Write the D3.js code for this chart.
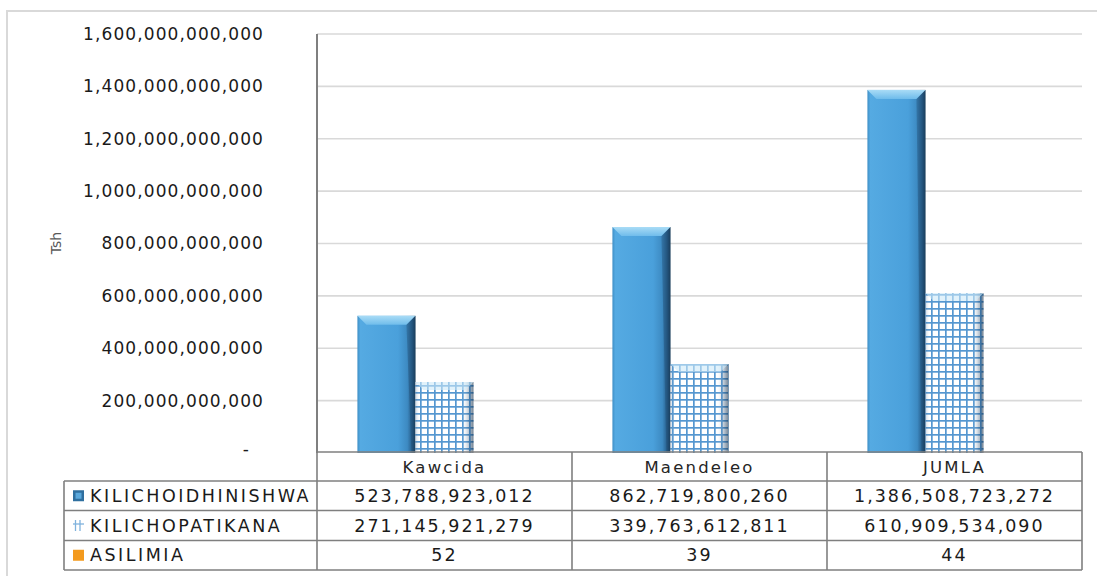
<!DOCTYPE html>
<html>
<head>
<meta charset="utf-8">
<script src="https://cdn.jsdelivr.net/npm/d3@7"></script>
<style>
  html, body { margin: 0; padding: 0; background: #ffffff; }
  svg { display: block; }
  text { font-family: "DejaVu Sans", sans-serif; }
</style>
</head>
<body>
<svg id="chart" width="1097" height="576"></svg>
<script>
// ---- data ----
const categories = ["Kawcida", "Maendeleo", "JUMLA"];
const seriesNames = ["KILICHOIDHINISHWA", "KILICHOPATIKANA", "ASILIMIA"];
const kilichoidhinishwa = [523788923012, 862719800260, 1386508723272];
const kilichopatikana = [271145921279, 339763612811, 610909534090];
const asilimia = [52, 39, 44];
const yTicks = [0, 200e9, 400e9, 600e9, 800e9, 1000e9, 1200e9, 1400e9, 1600e9];
const yTitle = "Tsh";

const seriesValues = [kilichoidhinishwa, kilichopatikana, asilimia];

// ---- layout ----
const svg = d3.select("#chart");
const plot = { left: 317, right: 1082, top: 34, bottom: 453 };
const tableRows = [481, 510.5, 540.5, 570];
const tableLeft = 64;

const y = d3.scaleLinear().domain([0, 1600e9]).range([plot.bottom, plot.top]);
const xCols = d3.scaleBand().domain(categories).range([plot.left, plot.right]).padding(0);
const x0 = d3.scaleBand().domain(categories).range([plot.left, plot.right])
  .paddingInner(0.317).paddingOuter(0.1585);
const x1 = d3.scaleBand().domain(seriesNames).range([0, x0.bandwidth()]).padding(0);

// ---- defs ----
const defs = svg.append("defs");
const blueGrad = defs.append("linearGradient").attr("id", "blueGrad").attr("x1", 0).attr("x2", 1).attr("y1", 0).attr("y2", 0);
[["0%", "#3f8fc6"], ["5%", "#55aae2"], ["70%", "#4aa0db"], ["86%", "#3d8ac2"], ["94%", "#285f8c"], ["100%", "#183a57"]]
  .forEach(([o, c]) => blueGrad.append("stop").attr("offset", o).attr("stop-color", c));
const bevelGrad = defs.append("linearGradient").attr("id", "bevelGrad").attr("x1", 0).attr("x2", 0).attr("y1", 0).attr("y2", 1);
[["0%", "#a9dcf6"], ["100%", "#6fbceb"]].forEach(([o, c]) => bevelGrad.append("stop").attr("offset", o).attr("stop-color", c));

const hatch = defs.append("pattern").attr("id", "hatch").attr("patternUnits", "userSpaceOnUse")
  .attr("width", 7).attr("height", 7);
hatch.append("rect").attr("width", 7).attr("height", 7).attr("fill", "#ffffff");
hatch.append("rect").attr("x", 0).attr("y", 0).attr("width", 1.7).attr("height", 7).attr("fill", "#5597d0");
hatch.append("rect").attr("x", 0).attr("y", 0).attr("width", 7).attr("height", 1.7).attr("fill", "#5597d0");

const hatchShade = defs.append("linearGradient").attr("id", "hatchShade").attr("x1", 0).attr("x2", 1).attr("y1", 0).attr("y2", 0);
[["0%", "rgba(40,90,140,0.25)", ], ["8%", "rgba(255,255,255,0)"], ["80%", "rgba(255,255,255,0)"], ["92%", "rgba(30,70,110,0.3)"], ["100%", "rgba(20,45,70,0.6)"]]
  .forEach(([o, c]) => hatchShade.append("stop").attr("offset", o).attr("stop-color", c));

// ---- outer frame ----
svg.append("rect").attr("x", 7).attr("y", 11).attr("width", 1200).attr("height", 700)
  .attr("fill", "none").attr("stroke", "#d9d9d9").attr("stroke-width", 2);

// ---- gridlines ----
svg.append("g").selectAll("line").data(yTicks.filter(d => d > 0)).join("line")
  .attr("x1", plot.left).attr("x2", plot.right)
  .attr("y1", d => y(d)).attr("y2", d => y(d))
  .attr("stroke", "#d9d9d9").attr("stroke-width", 1.6);

// ---- y axis labels ----
const fmt = d3.format(",.0f");
const yAxis = d3.axisLeft(y).tickValues(yTicks).tickSize(0).tickPadding(53)
  .tickFormat(d => d === 0 ? "-" : fmt(d));
const yg = svg.append("g").attr("transform", `translate(${plot.left},0)`).call(yAxis);
yg.select(".domain").remove();
yg.selectAll("text").attr("font-size", 17).attr("letter-spacing", "1.1px").attr("fill", "#1a1a1a")
  .attr("font-family", "DejaVu Sans, sans-serif");
yg.selectAll(".tick").filter(d => d === 0).select("text").attr("dx", -14).attr("dy", "0.1em");

// axis title
svg.append("text").attr("transform", `translate(61,243) rotate(-90)`)
  .attr("text-anchor", "middle").attr("font-size", 14).attr("fill", "#595959").text(yTitle);

// ---- bars ----
const barsG = svg.append("g");
categories.forEach((cat, ci) => {
  seriesNames.forEach((s, si) => {
    const v = seriesValues[si][ci];
    const bx = x0(cat) + x1(s);
    const bw = x1.bandwidth();
    const by = y(v);
    const bh = y(0) - y(v);
    const g = barsG.append("g");
    if (si === 0) {
      g.append("rect").attr("x", bx).attr("y", by).attr("width", bw).attr("height", bh).attr("fill", "url(#blueGrad)");
      const b = Math.min(9, bh / 2);
      g.append("polygon").attr("points", [[bx, by], [bx + bw, by], [bx + bw - b, by + b], [bx + b, by + b]].map(p => p.join(",")).join(" "))
        .attr("fill", "url(#bevelGrad)");
      g.append("polygon").attr("points", [[bx + bw, by], [bx + bw, by + bh], [bx + bw - 4, by + bh], [bx + bw - b, by + b]].map(p => p.join(",")).join(" "))
        .attr("fill", "#1d4566").attr("opacity", 0.35);
    } else if (si === 1) {
      g.append("rect").attr("x", bx).attr("y", by).attr("width", bw).attr("height", bh).attr("fill", "url(#hatch)");
      g.append("rect").attr("x", bx).attr("y", by).attr("width", bw).attr("height", bh).attr("fill", "url(#hatchShade)");
      const b = Math.min(8, bh / 2);
      g.append("polygon").attr("points", [[bx, by], [bx + bw, by], [bx + bw - b, by + b], [bx + b, by + b]].map(p => p.join(",")).join(" "))
        .attr("fill", "#cdeaf9").attr("opacity", 0.6);
    } else {
      g.append("rect").attr("x", bx).attr("y", by).attr("width", bw).attr("height", Math.max(0, bh)).attr("fill", "#f39a1e");
    }
  });
});

// ---- vertical axis line ----
svg.append("line").attr("x1", plot.left).attr("x2", plot.left).attr("y1", plot.top).attr("y2", plot.bottom)
  .attr("stroke", "#7f7f7f").attr("stroke-width", 2);

// ---- data table ----
const tg = svg.append("g");
const border = "#7f7f7f";
tg.append("line").attr("x1", plot.left).attr("x2", plot.right).attr("y1", plot.bottom - 1).attr("y2", plot.bottom - 1)
  .attr("stroke", border).attr("stroke-width", 1.6);
tableRows.forEach(ry => {
  tg.append("line").attr("x1", tableLeft).attr("x2", plot.right).attr("y1", ry).attr("y2", ry)
    .attr("stroke", border).attr("stroke-width", 1.6);
});
tg.append("line").attr("x1", tableLeft).attr("x2", tableLeft).attr("y1", tableRows[0]).attr("y2", tableRows[3])
  .attr("stroke", border).attr("stroke-width", 1.6);
categories.forEach(c => {
  tg.append("line").attr("x1", xCols(c)).attr("x2", xCols(c)).attr("y1", plot.bottom - 1).attr("y2", tableRows[3])
    .attr("stroke", border).attr("stroke-width", 1.6);
});
tg.append("line").attr("x1", plot.right).attr("x2", plot.right).attr("y1", plot.bottom - 1).attr("y2", tableRows[3])
  .attr("stroke", border).attr("stroke-width", 1.6);

const cellFont = 17.5;
categories.forEach(c => {
  tg.append("text").attr("x", xCols(c) + xCols.bandwidth() / 2).attr("y", (plot.bottom + tableRows[0]) / 2)
    .attr("text-anchor", "middle").attr("dominant-baseline", "central")
    .attr("font-size", 16.5).attr("letter-spacing", "2.2px").attr("fill", "#262626").text(c);
});
seriesNames.forEach((s, si) => {
  const top = tableRows[si], bot = tableRows[si + 1], cy = (top + bot) / 2;
  const kx = 73, ks = 11, ky = cy - ks / 2;
  if (si === 0) {
    tg.append("rect").attr("x", kx).attr("y", ky).attr("width", ks).attr("height", ks).attr("fill", "#2f6f9f");
    tg.append("rect").attr("x", kx + 2.5).attr("y", ky + 2.5).attr("width", ks - 5).attr("height", ks - 5).attr("fill", "#5aa8dc");
  } else if (si === 1) {
    tg.append("rect").attr("x", kx).attr("y", ky).attr("width", ks).attr("height", ks).attr("fill", "#ffffff");
    [2.5, 7].forEach(o => {
      tg.append("line").attr("x1", kx + o).attr("x2", kx + o).attr("y1", ky).attr("y2", ky + ks).attr("stroke", "#7fb2dd").attr("stroke-width", 1.3);
    });
    tg.append("line").attr("x1", kx).attr("x2", kx + ks).attr("y1", ky + 4).attr("y2", ky + 4).attr("stroke", "#7fb2dd").attr("stroke-width", 1.3);
  } else {
    tg.append("rect").attr("x", kx).attr("y", ky).attr("width", ks).attr("height", ks).attr("fill", "#f39a1e");
  }
  tg.append("text").attr("x", 90).attr("y", cy).attr("dominant-baseline", "central")
    .attr("font-size", cellFont).attr("letter-spacing", "2.5px").attr("fill", "#1a1a1a").text(s);
  categories.forEach((c, ci) => {
    tg.append("text").attr("x", xCols(c) + xCols.bandwidth() / 2).attr("y", cy)
      .attr("text-anchor", "middle").attr("dominant-baseline", "central")
      .attr("font-size", cellFont).attr("letter-spacing", "2px").attr("fill", "#1a1a1a")
      .text(fmt(seriesValues[si][ci]));
  });
});
</script>
</body>
</html>
